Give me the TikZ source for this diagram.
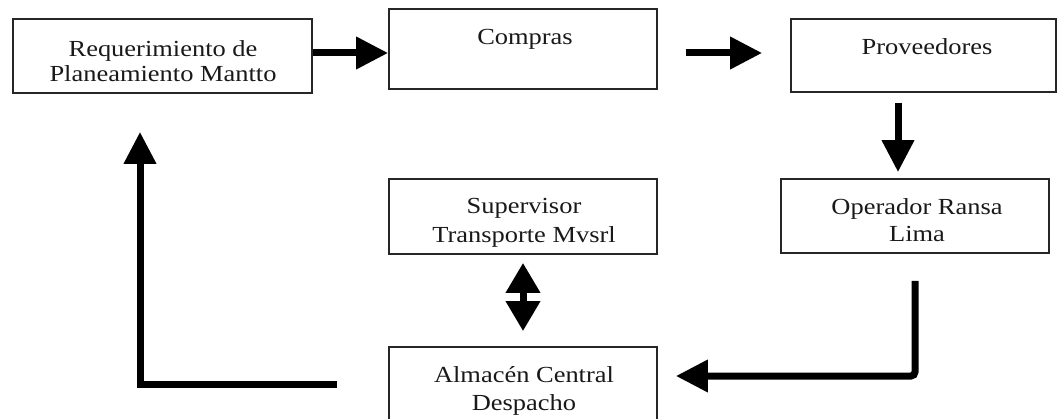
\documentclass[tikz,border=0pt]{standalone}
\usepackage{fontspec}
\setmainfont{Liberation Serif}[FakeStretch=1.15]
\usetikzlibrary{arrows.meta}
\begin{document}
\begin{tikzpicture}[x=1pt,y=-1pt,
  box/.style={draw=black!85, line width=1.8pt, rectangle, inner sep=0pt},
  boxtext/.style={text=black!90, font=\fontsize{23}{27}\selectfont, align=center, anchor=base, inner sep=0pt},
  flow/.style={line width=7pt, draw=black, line join=miter, -{Triangle[length=32pt,width=31pt]}},
  both/.style={line width=7pt, draw=black, {Triangle[length=30pt,width=33pt]}-{Triangle[length=30pt,width=33pt]}},
]
\useasboundingbox (0,0) rectangle (1057,419);
\clip (0,0) rectangle (1057,419);

% boxes
\node[box, minimum width=299pt, minimum height=74pt] (req) at (162.5,56) {};
\node[box, minimum width=268pt, minimum height=80pt] (compras) at (523,49) {};
\node[box, minimum width=265pt, minimum height=73pt] (prov) at (923.5,55.5) {};
\node[box, minimum width=268pt, minimum height=74pt] (oper) at (915,216) {};
\node[box, minimum width=268pt, minimum height=75pt] (sup) at (523,216.5) {};
\node[box, minimum width=268pt, minimum height=81pt] (alm) at (523,387.5) {};

% texts (base anchor = baseline of the last line)
\node[boxtext, font=\fontsize{23}{25}\selectfont] (treq) at (163,82) {Requerimiento de\\Planeamiento Mantto};
\node[boxtext] (tcompras) at (525,45) {Compras};
\node[boxtext] (tprov) at (927,55) {Proveedores};
\node[boxtext] (toper) at (917,242) {Operador Ransa\\Lima};
\node[boxtext, font=\fontsize{23}{29}\selectfont] (tsup) at (524,243) {Supervisor\\Transporte Mvsrl};
\node[boxtext, font=\fontsize{23}{28}\selectfont] (talm) at (524,410) {Almacén Central\\Despacho};

% connector anchors
\coordinate (a1) at ([yshift=3pt]req.east);
\coordinate (a2) at ([yshift=-4pt]compras.east);
\coordinate (a3) at ([xshift=-25.5pt]prov.south);
\coordinate (a4) at ([yshift=11.5pt]alm.east);
\coordinate (a5) at ([xshift=-22.5pt]req.south);
\coordinate (a6) at ([yshift=3.5pt]alm.west);

% connectors
\draw[flow] (a1) -- (a1 -| compras.west);
\draw[flow, shorten <=28pt, shorten >=28pt] (a2) -- (a2 -| prov.west);
\draw[flow, shorten <=10pt, shorten >=6pt] (a3) -- (a3 |- oper.north);
\draw[flow, rounded corners=4pt, shorten <=27pt, shorten >=18pt] (oper.south) |- (a4);
\draw[both, shorten <=8pt, shorten >=15pt] (sup.south) -- (alm.north);
\draw[flow, shorten <=51pt, shorten >=38pt] (a6) -| (a5);
\end{tikzpicture}
\end{document}
